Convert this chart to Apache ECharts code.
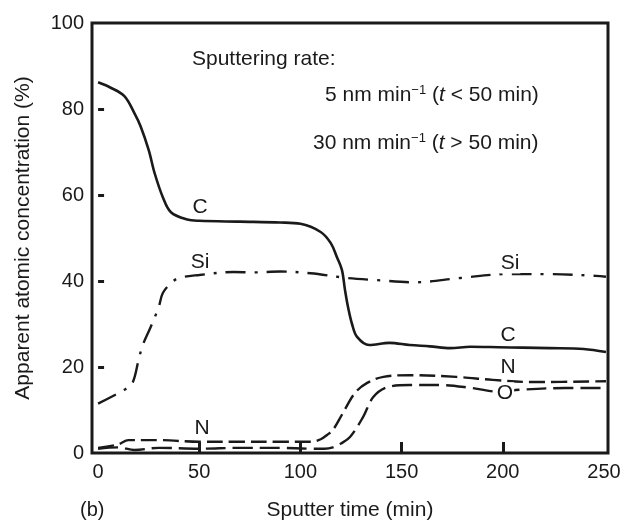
<!DOCTYPE html>
<html>
<head>
<meta charset="utf-8">
<script src="https://cdn.jsdelivr.net/npm/echarts@6/dist/echarts.min.js"></script>
<style>
html,body{margin:0;padding:0;background:#fff;}
#main_chart{width:624px;height:523px;}
</style>
</head>
<body>
<div id="main_chart"></div>
<script>
// ticks
var xTickLabels = [0, 50, 100, 150, 200, 250];
var xTickMarks = [50, 100, 150, 200];
var yTickMarks = [20, 40, 60, 80];

// C (solid)
var cX = [0, 6, 13, 18, 21, 25, 28, 32, 36, 44, 50, 70, 90, 100, 110, 115, 118, 120.5, 122, 123.5, 125.5, 128, 134, 144, 154, 164, 174, 184, 198, 210, 223, 240, 251];
var cY = [86.2, 85, 83, 79, 76, 70.5, 65, 59.5, 56, 54.3, 54, 53.8, 53.6, 53.3, 51.4, 48.8, 45.6, 42.6, 38, 34, 30, 27, 25.1, 25.6, 25.1, 24.8, 24.4, 24.7, 24.6, 24.5, 24.4, 24.2, 23.5];
// Si (dash-dot)
var siX = [0, 13, 17, 20, 22, 26, 30, 32, 36, 40, 50, 67, 77, 90, 105, 123, 138, 156, 179, 202, 222, 246, 251];
var siY = [11.5, 14.7, 16.3, 21.6, 25, 29.3, 34, 37.2, 39.5, 40.7, 41.4, 42.1, 42, 42.2, 41.8, 40.7, 40.2, 39.7, 40.7, 41.6, 41.6, 41.2, 41];
// N (dashed)
var nX = [0, 10, 15, 30, 50, 70, 90, 105, 110, 114, 116, 121, 127, 133, 141, 154, 177, 195, 215, 251];
var nY = [1.2, 2.0, 3.0, 3.0, 2.6, 2.6, 2.6, 2.6, 3.2, 4.5, 5.3, 9.3, 14, 16.3, 17.7, 18.1, 17.7, 17, 16.5, 16.7];
// O (dashed)
var oX = [0, 10, 18, 30, 50, 70, 90, 105, 112, 116, 120, 124.5, 131, 136, 143, 154, 169, 185, 199, 208, 231, 251];
var oY = [1.0, 1.3, 0.7, 1.2, 1.0, 1.2, 1.2, 1.0, 1.0, 1.3, 2.2, 3.7, 8.4, 13, 15.3, 15.8, 15.8, 15.1, 14.2, 14.7, 15.1, 15.1];

// curve labels [x, y, text]
var curveLabels = [
  [50.4, 57.2, 'C'],
  [50.4, 44.4, 'Si'],
  [203.6, 44.2, 'Si'],
  [202.6, 27.4, 'C'],
  [202.6, 20.0, 'N'],
  [201.1, 14.0, 'O'],
  [51.4, 5.8, 'N']
];

function zipXY(xs, ys){
  var out = [];
  for(var i=0;i<xs.length;i++){
    out.push([xs[i], ys[i]]);
  }
  return out;
}

var FONT = 'Liberation Sans';
var INK = '#1a1a1a';

var myChart = echarts.init(document.getElementById('main_chart'));

var lineBase = function(name, xs, ys, dash, width){
  return {
    name: name,
    type: 'line',
    data: zipXY(xs, ys),
    smooth: 0.35,
    symbol: 'none',
    silent: true,
    lineStyle: {color: INK, width: width, type: dash}
  };
};

var supStyle = {fontSize: 13, fontFamily: FONT, fill: INK, verticalAlign: 'top', padding: [0, 0, 10, 0]};
var itStyle = {fontSize: 21, fontFamily: FONT, fontStyle: 'italic', fill: INK};

var option = {
  animation: false,
  backgroundColor: '#fff',
  grid: {
    left: 92, right: 16, top: 23, bottom: 70,
    containLabel: false,
    outerBoundsMode: 'none',
    show: true,
    borderColor: INK,
    borderWidth: 3
  },
  xAxis: {
    type: 'value',
    min: -3,
    max: 252,
    name: 'Sputter time (min)',
    nameLocation: 'middle',
    nameGap: 47,
    nameTextStyle: {fontFamily: FONT, fontSize: 21, color: INK},
    axisLine: {show: false},
    axisTick: {show: true, inside: true, length: 11, customValues: xTickMarks, lineStyle: {color: INK, width: 3}},
    axisLabel: {customValues: xTickLabels, margin: 9, fontFamily: FONT, fontSize: 20, color: INK},
    splitLine: {show: false}
  },
  yAxis: {
    type: 'value',
    min: 0,
    max: 100,
    interval: 20,
    name: 'Apparent atomic concentration (%)',
    nameLocation: 'middle',
    nameGap: 58,
    nameTextStyle: {fontFamily: FONT, fontSize: 21, color: INK},
    axisLine: {show: false},
    axisTick: {show: true, inside: true, length: 6, customValues: yTickMarks, lineStyle: {color: INK, width: 3}},
    axisLabel: {margin: 8, fontFamily: FONT, fontSize: 20, color: INK},
    splitLine: {show: false}
  },
  graphic: [
    {type: 'text', left: 192, top: 49, style: {text: 'Sputtering rate:', font: '21px "Liberation Sans"', fill: INK}},
    {type: 'text', left: 325, top: 84, style: {
      text: '5 nm min{sup|−1} ({it|t} < 50 min)',
      font: '21px "Liberation Sans"', fill: INK,
      rich: {sup: supStyle, it: itStyle}
    }},
    {type: 'text', left: 313, top: 132, style: {
      text: '30 nm min{sup|−1} ({it|t} > 50 min)',
      font: '21px "Liberation Sans"', fill: INK,
      rich: {sup: supStyle, it: itStyle}
    }},
    {type: 'text', left: 80, top: 500, style: {text: '(b)', font: '20px "Liberation Sans"', fill: INK}}
  ],
  series: [
    lineBase('C', cX, cY, 'solid', 2.6),
    lineBase('Si', siX, siY, [20, 9, 3, 9], 2.4),
    lineBase('N', nX, nY, [16, 6], 2.4),
    lineBase('O', oX, oY, [20, 7], 2.4),
    {
      type: 'scatter',
      symbolSize: 0,
      silent: true,
      z: 5,
      itemStyle: {opacity: 1},
      data: curveLabels.map(function(d){ return {value: [d[0], d[1]], name: d[2]}; }),
      label: {
        show: true,
        position: 'inside',
        formatter: '{b}',
        fontFamily: FONT,
        fontSize: 21,
        color: INK,
        opacity: 1,
        backgroundColor: '#fff',
        padding: [0, 1]
      }
    }
  ]
};

myChart.setOption(option);
</script>
</body>
</html>
